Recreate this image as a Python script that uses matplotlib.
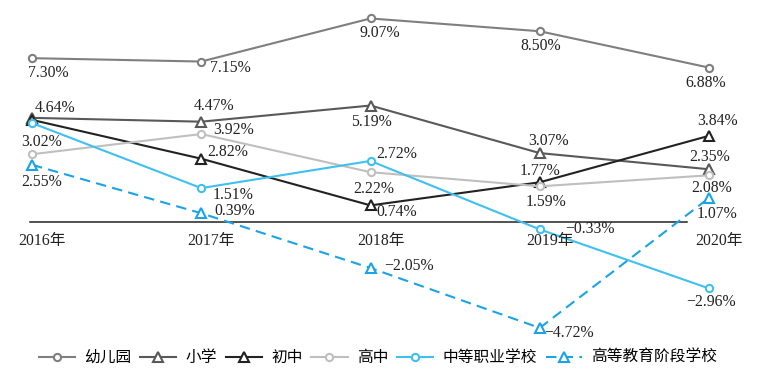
import matplotlib
matplotlib.use("Agg")
import matplotlib.pyplot as plt
from matplotlib.lines import Line2D

plt.rcParams['font.family'] = ['Liberation Serif', 'Noto Sans CJK SC', 'DejaVu Sans']

years = ["2016年", "2017年", "2018年", "2019年", "2020年"]
series_names = ["幼儿园", "小学", "初中", "高中", "中等职业学校", "高等教育阶段学校"]
kindergarten = [7.30, 7.15, 9.07, 8.50, 6.88]
primary = [4.64, 4.47, 5.19, 3.07, 2.35]
junior = [4.55, 2.82, 0.74, 1.77, 3.84]
senior = [3.02, 3.92, 2.22, 1.59, 2.08]
vocational = [4.41, 1.51, 2.72, -0.33, -2.96]
higher = [2.55, 0.39, -2.05, -4.72, 1.07]
# which points carry a value label
show_label = [
    [1, 1, 1, 1, 1],
    [1, 1, 1, 1, 1],
    [0, 1, 1, 1, 1],
    [1, 1, 1, 1, 1],
    [0, 1, 1, 1, 1],
    [1, 1, 1, 1, 1],
]

values = [kindergarten, primary, junior, senior, vocational, higher]
colors = ["#7f7f7f", "#595959", "#222222", "#bfbfbf", "#3fc0f0", "#1aa3e6"]
markers = ["o", "^", "^", "o", "o", "^"]
styles = ["-", "-", "-", "-", "-", (0, (5, 3))]

# label offsets in pixels (dx, dy-up)
offsets = [
    [(16, -15), (29, -6), (9, -15), (1, -15), (-3, -15)],
    [(23, 10), (13, 16), (1, -16), (9, 12), (1, 12)],
    [None, (26, 7), (26, -7), (0, 11), (9, 15)],
    [(10, 12), (32, 4), (3, -17), (6, -16), (3, -13)],
    [None, (32, -7), (26, 7), (50, 0), (2, -14)],
    [(10, -17), (33, 2), (39, 2), (29, -5), (8, -16)],
]

W, H = 782, 384
fig = plt.figure(figsize=(W / 100, H / 100), dpi=100)
top_px, bot_px = 8.8, 334.2
ax = fig.add_axes([32 / W, (H - bot_px) / H, 677 / W, (bot_px - top_px) / H])
ax.set_xlim(0, 4)
ax.set_ylim(-5, 9.5)
ax.axis("off")

x = list(range(len(years)))
fs = 11.3

for i, (name, vals) in enumerate(zip(series_names, values)):
    ms = 5.2 if markers[i] == "o" else 6.5
    ax.plot(x, vals, color=colors[i], lw=1.5, linestyle=styles[i], marker=markers[i],
            markersize=ms, markerfacecolor="white", markeredgecolor=colors[i],
            markeredgewidth=1.5, clip_on=False, zorder=3, label=name)
    for j, v in enumerate(vals):
        if not show_label[i][j]:
            continue
        dx, dy = offsets[i][j]
        txt = f"{v:.2f}%".replace("-", "\u2212")
        ax.annotate(txt, (x[j], v), xytext=(dx, dy), textcoords="offset pixels",
                    ha="center", va="center", fontsize=fs, color="#222222",
                    annotation_clip=False, zorder=5)

# zero axis line
ax.plot([-0.01, 3.87], [0, 0], color="#222222", lw=1.1, clip_on=False, zorder=2)

# category labels
for j, yl in enumerate(years):
    ax.annotate(yl, (x[j], 0), xytext=(10, -19), textcoords="offset pixels",
                ha="center", va="center", fontsize=fs, color="#222222",
                annotation_clip=False)

handles = []
for i, name in enumerate(series_names):
    ms = 5.2 if markers[i] == "o" else 6.5
    handles.append(Line2D([0], [0], color=colors[i], lw=1.5, linestyle=styles[i],
                          marker=markers[i], markersize=ms, markerfacecolor="white",
                          markeredgecolor=colors[i], markeredgewidth=1.5))
fig.legend(handles, series_names, loc="center", bbox_to_anchor=(378 / W, (H - 358) / H),
           ncol=6, frameon=False, fontsize=fs, handlelength=2.3, handletextpad=0.6,
           columnspacing=0.55, borderpad=0, borderaxespad=0)

fig.savefig("out.png", dpi=100)
